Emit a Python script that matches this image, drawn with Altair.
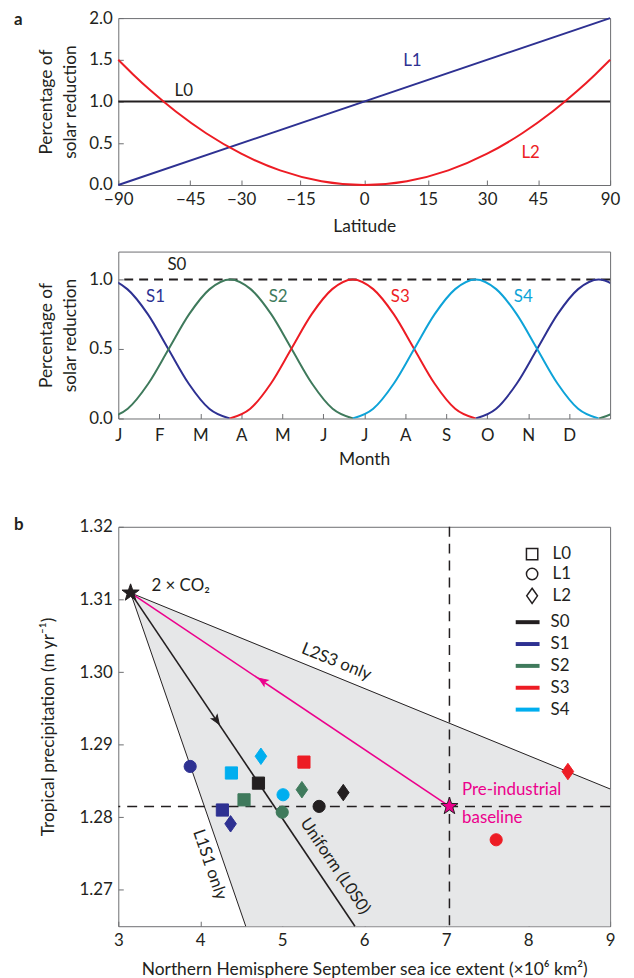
import json
import math
import altair as alt
import pandas as pd

FONT = "Lato"
INK = "#231f20"
FRAME = "#6d6e71"
W = 495
LFS = 17      # tick label font size
TFS = 17.5    # axis title font size

# ---------------- panel a (top): latitude profiles ----------------
lat_L0 = [-90, 90]
pct_L0 = [1.0, 1.0]
lat_L1 = [-90, 90]
pct_L1 = [0.0, 2.0]
lat_L2 = [-90, -80, -70, -60, -50, -40, -30, -20, -10, 0, 10, 20, 30, 40, 50, 60, 70, 80, 90]
pct_L2 = [1.5, 1.455, 1.325, 1.125, 0.88, 0.62, 0.375, 0.175, 0.045, 0.0,
          0.045, 0.175, 0.375, 0.62, 0.88, 1.125, 1.325, 1.455, 1.5]
lat_ticks = [-90, -45, -30, -15, 0, 15, 30, 45, 90]
L_names = ["L0", "L1", "L2"]
L_colors = ["#231f20", "#2e3192", "#ed1c24"]
L_label_lat = [-47.2, 11.3, 42.6]
L_label_pct = [1.13, 1.49, 0.385]

# ---------------- panel a (bottom): seasonal profiles ----------------
month_letters = ["J", "F", "M", "A", "M", "J", "J", "A", "S", "O", "N", "D"]
pulse_offset = [-3.0, -2.5, -2.0, -1.5, -1.0, -0.5, 0.0, 0.5, 1.0, 1.5, 2.0, 2.5, 3.0]
pulse_pct = [0.0, 0.07, 0.25, 0.5, 0.75, 0.93, 1.0, 0.93, 0.75, 0.5, 0.25, 0.07, 0.0]
S_names = ["S0", "S1", "S2", "S3", "S4"]
S_colors = ["#231f20", "#2e3192", "#3f7a5c", "#ed1c24", "#0ea3d8"]
S_peak_month = [11.72, 2.73, 5.72, 8.72]          # S1..S4
S_label_month = [1.43, 0.91, 3.9, 6.88, 9.88]
S_label_pct = [1.10, 0.874, 0.874, 0.874, 0.874]
S0_pct = 1.0

# ---------------- panel b: scatter ----------------
run_L = ["L1", "L0", "L2", "L0", "L0", "L2", "L2", "L1", "L0", "L0", "L1", "L1", "L2", "L1", "L2"]
run_S = ["S1", "S4", "S4", "S3", "S0", "S2", "S0", "S4", "S2", "S1", "S0", "S2", "S1", "S3", "S3"]
run_ice = [3.877, 4.38, 4.74, 5.265, 4.71, 5.24, 5.745, 5.01, 4.534, 4.27, 5.45, 5.0, 4.37, 7.61, 8.485]
run_precip = [1.2870, 1.2861, 1.2884, 1.2876, 1.2847, 1.2838, 1.2834, 1.2831, 1.2824, 1.2810,
              1.2815, 1.2807, 1.2791, 1.2769, 1.2863]
S_colors_b = ["#231f20", "#2e3192", "#3f7a5c", "#ed1c24", "#00aeef"]
co2_pt = [3.15, 1.3109]
base_pt = [7.04, 1.2815]
area_x = [3.15, 4.555, 9.0]
area_top = [1.3109, 1.3045, 1.2839]
area_bot = [1.3109, 1.265, 1.265]
edge_L2S3 = [[3.15, 1.3109], [9.0, 1.2839]]
edge_L1S1 = [[3.15, 1.3109], [4.555, 1.265]]
line_L0S0 = [[3.15, 1.3109], [5.887, 1.265]]
line_base = [[3.15, 1.3109], [7.04, 1.2815]]
arrow_black = [4.2, 1.29335]
arrow_magenta = [4.76, 1.2988]
MAGENTA = "#ec008c"

STAR = ("M0,-1L0.235,-0.324L0.951,-0.309L0.38,0.124L0.588,0.809L0,0.4"
        "L-0.588,0.809L-0.38,0.124L-0.951,-0.309L-0.235,-0.324Z")
DIAMOND = "M0,-1.35L0.95,0L0,1.35L-0.95,0Z"
ARROW = "M0,-1L0.75,0.9L0,0.45L-0.75,0.9Z"


def axis(**kw):
    base = dict(offset=-5, tickSize=5, domain=False, grid=False, tickColor=FRAME,
                tickWidth=1, labelFont=FONT, labelFontSize=LFS, labelColor=INK,
                titleFont=FONT, titleFontSize=TFS, titleFontWeight="normal",
                titleColor=INK, labelPadding=6, labelFlush=False, labelOverlap=False)
    base.update(kw)
    return alt.Axis(**base)


def letter(t, y, opacity=1.0, baseline="alphabetic"):
    return alt.Chart(pd.DataFrame({"t": [t]})).mark_text(
        align="left", baseline=baseline, fontSize=17, fontWeight="bold",
        font=FONT, color=INK, opacity=opacity
    ).encode(x=alt.value(-105), y=alt.value(y), text="t:N")


# ---- panel a top ----
rows = []
for name, lats, pcts, col in zip(L_names, [lat_L0, lat_L1, lat_L2],
                                 [pct_L0, pct_L1, pct_L2], L_colors):
    for la, p in zip(lats, pcts):
        rows.append({"profile": name, "lat": la, "pct": p, "col": col})
lat_df = pd.DataFrame(rows)
lat_lab_df = pd.DataFrame({"profile": L_names, "lat": L_label_lat,
                           "pct": L_label_pct, "col": L_colors})
sin_calc = "sin(datum.lat * PI / 180)"

x_lat = alt.X("s:Q", scale=alt.Scale(domain=[-1, 1], nice=False, zero=False),
              axis=axis(values=[math.sin(math.radians(v)) for v in lat_ticks],
                        labelExpr="format(round(asin(datum.value) * 180 / PI), 'd')",
                        title="Latitude", labelPadding=7, titlePadding=10))
y_a = alt.Y("pct:Q", scale=alt.Scale(domain=[0, 2], nice=False),
            axis=axis(values=[0, 0.5, 1, 1.5, 2], format=".1f",
                      title=["Percentage of", "solar reduction"],
                      titlePadding=9, titleLineHeight=24))

a_lines = alt.Chart(lat_df).transform_calculate(s=sin_calc).mark_line(
    strokeWidth=2, interpolate="monotone"
).encode(x=x_lat, y=y_a, color=alt.Color("col:N", scale=None), detail="profile:N")
a_text = alt.Chart(lat_lab_df).transform_calculate(s=sin_calc).mark_text(
    fontSize=17, font=FONT
).encode(x=x_lat, y=y_a, text="profile:N", color=alt.Color("col:N", scale=None))
topA = alt.layer(a_lines, a_text, letter("a", 2, baseline="middle")).properties(
    width=W, height=168)

# ---- panel a bottom ----
rows = []
for name, col, peak in zip(S_names[1:], S_colors[1:], S_peak_month):
    for cyc in (-12, 0, 12):
        for off, p in zip(pulse_offset, pulse_pct):
            rows.append({"S": name, "seg": f"{name}{cyc}", "month": peak + cyc + off,
                         "pct": p, "col": col})
seas_df = pd.DataFrame(rows)
seas_lab_df = pd.DataFrame({"S": S_names, "month": S_label_month,
                            "pct": S_label_pct, "col": S_colors})

x_month = alt.X("month:Q", scale=alt.Scale(domain=[0, 12], nice=False),
                axis=axis(values=list(range(12)),
                          labelExpr=json.dumps(month_letters) + "[datum.value]",
                          title="Month", labelPadding=9, titlePadding=7))
y_s = alt.Y("pct:Q", scale=alt.Scale(domain=[0, 1.2], nice=False),
            axis=axis(values=[0, 0.5, 1.0], format=".1f",
                      title=["Percentage of", "solar reduction"],
                      titlePadding=9, titleLineHeight=24))

s0_rule = alt.Chart(pd.DataFrame({"pct": [S0_pct]})).mark_rule(
    strokeDash=[9, 6], strokeWidth=2, color=INK
).encode(y=y_s)
s_lines = alt.Chart(seas_df).mark_line(strokeWidth=2, interpolate="monotone", clip=True).encode(
    x=x_month, y=y_s, color=alt.Color("col:N", scale=None), detail="seg:N")
s_text = alt.Chart(seas_lab_df).mark_text(fontSize=17, font=FONT).encode(
    x=x_month, y=y_s, text="S:N", color=alt.Color("col:N", scale=None))
botA = alt.layer(s0_rule, s_lines, s_text, letter("a", 84, opacity=0)).properties(
    width=W, height=168)

# ---- panel b ----
x_b = alt.X("x:Q", scale=alt.Scale(domain=[3, 9], nice=False, zero=False),
            axis=axis(values=[3, 4, 5, 6, 7, 8, 9], format="d",
                      title="Northern Hemisphere September sea ice extent (×10⁶ km²)",
                      labelPadding=6, titlePadding=13))
y_b = alt.Y("y:Q", scale=alt.Scale(domain=[1.265, 1.32], nice=False, zero=False),
            axis=axis(values=[1.27, 1.28, 1.29, 1.30, 1.31, 1.32], format=".2f",
                      title="Tropical precipitation (m yr⁻¹)", labelPadding=6,
                      titlePadding=22))

area_df = pd.DataFrame({"x": area_x, "y": area_top, "y2": area_bot})
b_area = alt.Chart(area_df).mark_area(color="#e6e7e8", interpolate="linear").encode(
    x=x_b, y=y_b, y2="y2:Q")


def seg_df(pts, name):
    return pd.DataFrame({"seg": [name] * len(pts), "x": [p[0] for p in pts],
                         "y": [p[1] for p in pts]})


edges = pd.concat([seg_df(edge_L2S3, "L2S3"), seg_df(edge_L1S1, "L1S1")])
b_edges = alt.Chart(edges).mark_line(color=INK, strokeWidth=1).encode(
    x=x_b, y=y_b, detail="seg:N")
b_hrule = alt.Chart(pd.DataFrame({"y": [base_pt[1]]})).mark_rule(
    strokeDash=[10, 7], strokeWidth=1.5, color=INK).encode(y=y_b)
b_vrule = alt.Chart(pd.DataFrame({"x": [base_pt[0]]})).mark_rule(
    strokeDash=[10, 7], strokeWidth=1.5, color=INK).encode(x=x_b)
b_uniform = alt.Chart(seg_df(line_L0S0, "L0S0")).mark_line(
    color=INK, strokeWidth=1.6).encode(x=x_b, y=y_b)
b_magenta = alt.Chart(seg_df(line_base, "base")).mark_line(
    color=MAGENTA, strokeWidth=1.6).encode(x=x_b, y=y_b)

runs_df = pd.DataFrame({"L": run_L, "S": run_S, "x": run_ice, "y": run_precip})
S_scale = alt.Scale(domain=S_names, range=S_colors_b)
S_legend = alt.Legend(title=None, orient="none", legendX=398, legendY=82,
                      symbolType="stroke", symbolSize=576, symbolStrokeWidth=4,
                      labelFont=FONT, labelFontSize=17, labelColor=INK,
                      labelOffset=9, rowPadding=-1, padding=0)
L_legend = alt.Legend(title=None, orient="none", legendX=408, legendY=19,
                      symbolSize=130, symbolFillColor="white", symbolStrokeColor=INK,
                      symbolStrokeWidth=1.5, labelFont=FONT, labelFontSize=17,
                      labelColor=INK, labelOffset=12, rowPadding=1, padding=0)
b_runs = alt.Chart(runs_df).mark_point(filled=True, opacity=1, size=150, strokeWidth=1).encode(
    x=x_b, y=y_b,
    fill=alt.Fill("S:N", scale=S_scale, legend=S_legend),
    stroke=alt.Stroke("S:N", scale=S_scale, legend=S_legend),
    shape=alt.Shape("L:N", scale=alt.Scale(domain=L_names,
                                           range=["square", "circle", DIAMOND]),
                    legend=L_legend))


def point_layer(pt, shape, size, fill, stroke, angle=0):
    return alt.Chart(pd.DataFrame({"x": [pt[0]], "y": [pt[1]]})).mark_point(
        shape=shape, size=size, filled=True, fill=fill, stroke=stroke,
        strokeWidth=1, opacity=1, angle=angle).encode(x=x_b, y=y_b)


b_arrow1 = point_layer(arrow_black, ARROW, 90, INK, INK, 146)
b_arrow2 = point_layer(arrow_magenta, ARROW, 90, MAGENTA, MAGENTA, 304)
b_star1 = point_layer(co2_pt, STAR, 330, INK, INK)
b_star2 = point_layer(base_pt, STAR, 330, MAGENTA, INK)


def text_layer(txt, x, y, color=INK, angle=0, align="center"):
    return alt.Chart(pd.DataFrame({"t": [txt], "x": [x], "y": [y]})).mark_text(
        fontSize=17, font=FONT, color=color, angle=angle, align=align,
        baseline="middle").encode(x=x_b, y=y_b, text="t:N")


b_texts = [
    text_layer("2 × CO₂", 3.404, 1.3118, align="left"),
    text_layer("L2S3 only", 5.66, 1.3014, angle=22),
    text_layer("Uniform (L0S0)", 5.644, 1.27326, angle=56),
    text_layer("L1S1 only", 4.113, 1.27347, angle=71),
    text_layer("Pre-industrial", 7.194, 1.2838, color=MAGENTA, align="left"),
    text_layer("baseline", 7.194, 1.2799, color=MAGENTA, align="left"),
]

panelB = alt.layer(
    b_area, b_edges, b_hrule, b_vrule, b_uniform, b_magenta, b_runs,
    b_arrow1, b_arrow2, b_star1, b_star2, *b_texts,
    letter("b", 3), letter("b", -42, opacity=0, baseline="top")
).properties(width=W, height=402)

chart = alt.vconcat(topA, botA, panelB, spacing=15).resolve_scale(
    color="independent", fill="independent", stroke="independent", shape="independent"
).resolve_legend(
    color="independent", fill="independent", stroke="independent", shape="independent"
).properties(
    padding={"left": 5, "top": -3, "right": 5, "bottom": 0}
).configure(font=FONT).configure_view(stroke=FRAME, strokeWidth=1)

chart.save("out.html", embed_options={"renderer": "svg", "actions": False})
